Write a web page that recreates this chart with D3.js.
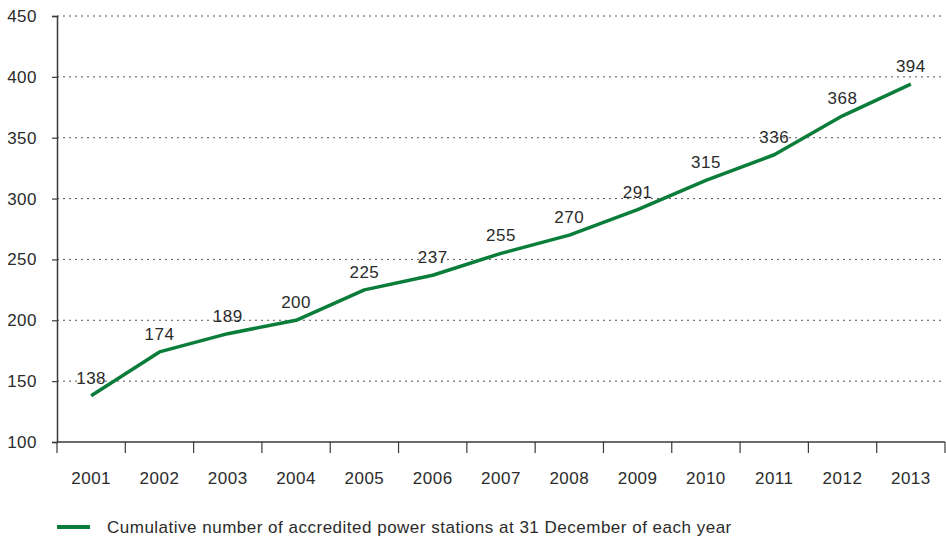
<!DOCTYPE html>
<html>
<head>
<meta charset="utf-8">
<script src="https://cdn.jsdelivr.net/npm/d3@7/dist/d3.min.js"></script>
<style>
  html, body { margin: 0; padding: 0; background: #fff; }
  svg { display: block; }
  text { font-family: "Liberation Sans", Arial, Helvetica, sans-serif; fill: #2b2b2b; letter-spacing: 0.5px; }
</style>
</head>
<body>
<svg id="chart" width="946" height="540"></svg>
<script>
// Cumulative number of accredited power stations, year-end totals
const years = ["2001","2002","2003","2004","2005","2006","2007","2008","2009","2010","2011","2012","2013"];
const stations = [138, 174, 189, 200, 225, 237, 255, 270, 291, 315, 336, 368, 394];
const yTicks = [100, 150, 200, 250, 300, 350, 400, 450];
const legendLabel = "Cumulative number of accredited power stations at 31 December of each year";

const green = "#0b7d3a";
const axisColor = "#3a3a3a";
const fontSize = 17;

const svg = d3.select("#chart");
const plotLeft = 57, plotRight = 945, plotTop = 16, plotBottom = 442;

const x = d3.scaleBand().domain(years).range([plotLeft, plotRight]).paddingInner(0).paddingOuter(0);
const y = d3.scaleLinear().domain([100, 450]).range([plotBottom, plotTop]);

// Dotted horizontal gridlines
svg.append("g")
  .selectAll("line")
  .data(yTicks.filter(d => d > 100))
  .join("line")
  .attr("x1", plotLeft).attr("x2", plotRight)
  .attr("y1", d => y(d)).attr("y2", d => y(d))
  .attr("stroke", "#555")
  .attr("stroke-width", 1)
  .attr("stroke-dasharray", "2,4");

// Y axis
const yAxis = svg.append("g")
  .attr("transform", `translate(${plotLeft},0)`)
  .call(d3.axisLeft(y).tickValues(yTicks).tickSize(5).tickPadding(15));
yAxis.select(".domain").attr("stroke", axisColor).attr("stroke-width", 1.5);
yAxis.selectAll(".tick line").attr("stroke", axisColor).attr("stroke-width", 1.2);
yAxis.selectAll(".tick text").attr("font-size", fontSize).attr("fill", "#2b2b2b")
  .style("font-family", "'Liberation Sans', Arial, sans-serif");

// X axis with ticks at band boundaries
const xAxis = svg.append("g").attr("transform", `translate(0,${plotBottom})`);
xAxis.append("line")
  .attr("x1", plotLeft).attr("x2", plotRight).attr("y1", 0).attr("y2", 0)
  .attr("stroke", axisColor).attr("stroke-width", 1.5);
const bounds = years.map(d => x(d)).concat([x(years[years.length - 1]) + x.bandwidth()]);
xAxis.selectAll("line.bt")
  .data(bounds)
  .join("line")
  .attr("class", "bt")
  .attr("x1", d => d).attr("x2", d => d)
  .attr("y1", 0).attr("y2", 11)
  .attr("stroke", axisColor).attr("stroke-width", 1.2);
xAxis.selectAll("text")
  .data(years)
  .join("text")
  .attr("x", d => x(d) + x.bandwidth() / 2)
  .attr("y", 42)
  .attr("text-anchor", "middle")
  .attr("font-size", fontSize)
  .text(d => d);

// Data line
const pts = years.map((yr, i) => ({ yr, v: stations[i] }));
const line = d3.line()
  .x(d => x(d.yr) + x.bandwidth() / 2)
  .y(d => y(d.v));
svg.append("path")
  .datum(pts)
  .attr("d", line)
  .attr("fill", "none")
  .attr("stroke", green)
  .attr("stroke-width", 3.5)
  .attr("stroke-linejoin", "round");

// Value labels above each point
svg.append("g")
  .selectAll("text")
  .data(pts)
  .join("text")
  .attr("x", d => x(d.yr) + x.bandwidth() / 2)
  .attr("y", d => y(d.v) - 12)
  .attr("text-anchor", "middle")
  .attr("font-size", fontSize)
  .text(d => d.v);

// Legend
const lg = svg.append("g");
lg.append("line")
  .attr("x1", 57).attr("x2", 90).attr("y1", 527).attr("y2", 527)
  .attr("stroke", green).attr("stroke-width", 4);
lg.append("text")
  .attr("x", 107).attr("y", 533)
  .attr("font-size", fontSize)
  .text(legendLabel);
</script>
</body>
</html>
